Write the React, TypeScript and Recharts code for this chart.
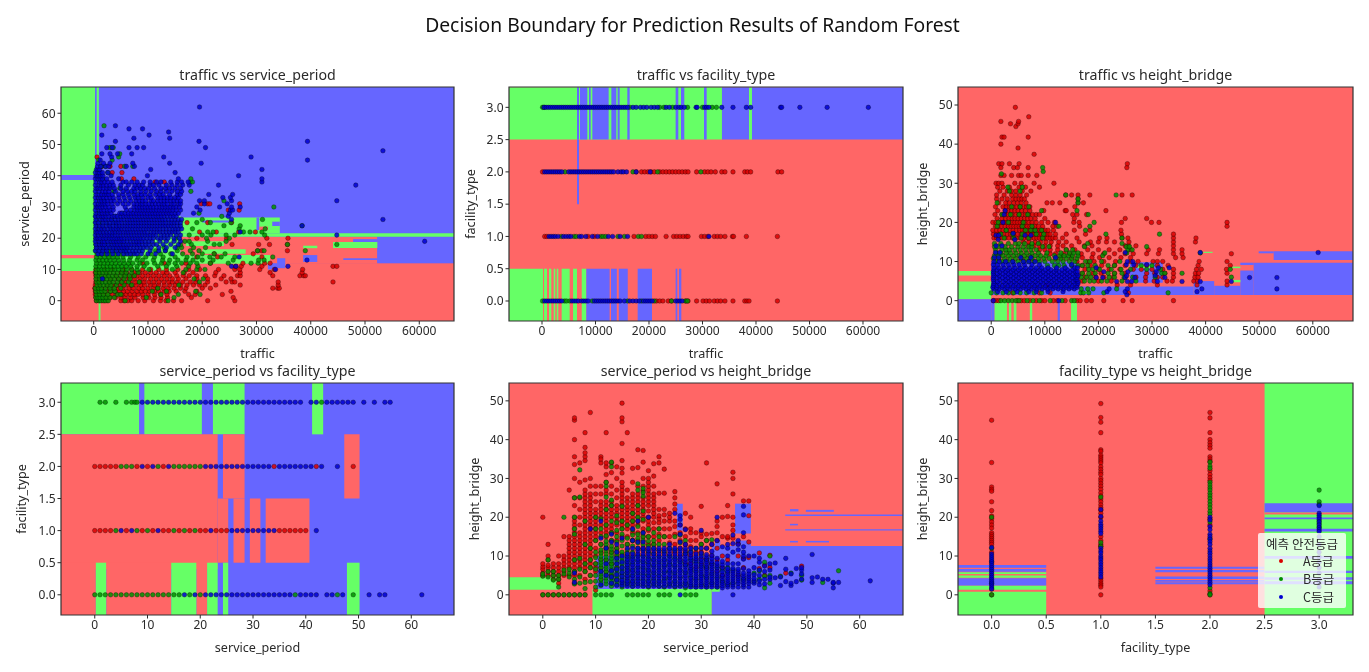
import { ScatterChart, Scatter, XAxis, YAxis, ReferenceArea, Legend } from 'recharts';

type Rows = [number, number[]][];
type Region = [string, number, number, number, number];

const classNames = ['A등급', 'B등급', 'C등급'];
const classFill: Record<string, string> = { A: '#d80000', B: '#008f00', C: '#0000d0' };
const regionFill: Record<string, string> = { A: '#ff6666', B: '#66ff66', C: '#6666ff' };

const trafficTicks = [0, 10000, 20000, 30000, 40000, 50000, 60000];
const periodTicks = [0, 10, 20, 30, 40, 50, 60];
const heightTicks = [0, 10, 20, 30, 40, 50];
const typeTicks = [0, 0.5, 1, 1.5, 2, 2.5, 3];

// traffic (thousands) listed per service_period value
const trafficPeriodA: Rows = [
  [0, [0.5, 1, 1.5, 2, 2.5, 5, 5.6, 6.3, 7, 8.2, 9.4, 11, 12.3, 13.3, 14.7, 16.2, 21, 26]],
  [1, [0.4, 1, 1.8, 2.4, 3, 4, 5, 5.8, 6.8, 7.6, 9.1, 10.2, 11.3, 12.4, 13.6, 18, 25.7]],
  [2, [0.3, 0.9, 1.6, 2.3, 3.3, 4.2, 5.2, 6, 6.7, 7.5, 8.2, 9, 10, 11.2, 12.3, 13.5, 17.5, 18.7, 23.7]],
  [3, [0.3, 1, 2, 3, 4, 4.7, 5.5, 6.2, 7.1, 8, 8.8, 9.5, 10.3, 11.2, 12, 13, 13.9, 15.2, 16.8, 19, 25.3]],
  [4, [0.2, 0.8, 1.5, 2.5, 3.4, 4.5, 5.4, 6.5, 7.3, 8.3, 9, 10, 11, 11.8, 12.8, 13.7, 14.8, 16, 17, 20, 21.5, 33, 33.9, 34.2]],
  [5, [0.3, 1.2, 2.4, 3.5, 4.3, 5.2, 6, 6.9, 7.8, 8.7, 9.4, 10.4, 11.2, 12, 13, 14, 15, 16, 17.2, 18.4, 19.5, 20.5, 22.5, 27, 34]],
  [6, [0.4, 1.1, 3, 5, 5.8, 6.8, 7.7, 8.5, 9.3, 10.2, 11.1, 12, 12.9, 13.8, 14.5, 15.4, 16.4, 17.8, 18.8, 21, 24.4, 25.5, 26, 34, 44.1]],
  [7, [0.5, 1.3, 3.2, 4.5, 5.5, 6.5, 7.5, 8.5, 9.4, 10.5, 11.5, 12.5, 13.5, 14.5, 15.6, 17, 19, 21, 23.5, 25.3]],
  [8, [0.4, 1.3, 2.5, 4, 5.5, 6.3, 7.2, 8, 9, 10, 11, 12, 13, 14, 15.3, 16.5, 17.6, 19, 20.6, 22.3, 24, 26.5, 27, 33, 38, 38.7, 39]],
  [9, [0.3, 1, 2.5, 5, 6, 7.5, 8.5, 9.5, 10.5, 11.5, 12.7, 13.5, 15, 16.7, 18.3, 22.5, 27, 32.5, 38.4]],
  [10, [0.4, 2, 3.5, 5.5, 7, 9, 10.5, 12, 13.4, 15.5, 17.5, 19.5, 23, 26, 26.9, 30.6, 33.3, 38.5]],
  [11, [26.2, 27.2, 31, 44.1, 44.8]],
  [12, [9, 13, 17, 21.5, 31.5, 32.5, 27.5]],
  [14, [19, 31, 22.8]],
  [15, [22.2, 29.4]],
  [16, [30.2, 31, 35.7]],
  [18, [30.4, 32.4, 35.7, 25.5]],
  [20, [31.9, 35.8, 24.5, 19]],
  [22, [19.5, 22.6, 26.7, 29.8]],
  [25, [17.2, 25.4, 21]],
  [29, [26.8, 24.8]],
  [31, [21, 21.4, 19.8, 26.9]],
  [38, [11.3, 13]],
  [39, [7.4, 5.1]],
  [41, [3.4, 5.2]],
  [43, [1.5, 3, 5]],
  [46, [0.6]],
];
const trafficPeriodB: Rows = [
  [0, [0.5, 1, 1.3, 1.8, 2.2, 2.7, 5.8, 13.7]],
  [1, [0.4, 0.8, 1.2, 1.7, 2.3, 3, 3.8, 9.7, 14.8]],
  [2, [0.5, 1.1, 1.8, 2.6, 4.4, 5, 12.4, 15.6, 19.6]],
  [3, [0.4, 1, 1.5, 2.1, 3.1, 3.9, 10.8, 13.4, 18.8]],
  [4, [0.3, 0.9, 1.4, 2.2, 3, 3.8, 5, 11.8]],
  [5, [0.6, 1.2, 1.8, 2.5, 3.2, 4.2, 5.6, 7, 15.7]],
  [6, [0.5, 1, 1.6, 2.2, 2.9, 3.6, 4.4, 5.2, 6.4, 8.4, 19.5]],
  [7, [0.4, 1.1, 1.8, 2.4, 3.1, 3.8, 4.6, 5.6, 6.7, 18.5, 20.2]],
  [8, [0.5, 1, 1.5, 2.2, 2.8, 3.5, 4.2, 5, 5.8, 6.6, 7.5]],
  [9, [0.4, 1.1, 1.7, 2.3, 3, 3.7, 4.4, 5.2, 6, 7, 8.2, 16.5]],
  [10, [0.5, 1, 1.5, 2, 2.6, 3.2, 3.9, 4.6, 5.3, 6.1, 7, 8, 10.2, 14.5, 17, 19, 20.5]],
  [11, [0.4, 1.1, 1.8, 2.5, 3.1, 3.8, 4.5, 5.2, 6, 6.8, 8, 9.3, 11.8, 13.4, 15.3, 17.5, 19.2]],
  [12, [0.5, 1.2, 1.9, 2.6, 3.3, 4, 4.8, 5.6, 6.4, 7.2, 8.5, 9.8, 11.2, 12.5, 13.8, 15, 16.2, 17.8, 19, 21.5, 24.8, 29, 30.3]],
  [13, [0.4, 1, 1.7, 2.4, 3, 3.8, 4.6, 5.5, 6.6, 8, 9, 11, 12.7, 14, 15.5, 17, 18.3, 20, 22, 25.7, 30.4, 31.4]],
  [14, [0.5, 1.2, 2, 2.8, 3.6, 4.4, 5.4, 6.8, 8.2, 9.6, 11.2, 12.8, 15, 17.2, 19.2, 21.4, 23.5, 26, 33]],
  [15, [0.6, 1.4, 2.2, 3, 4, 5, 6, 7.2, 10.5, 12.3, 14.2, 16.4, 18.2, 20, 22.2, 24.2]],
  [16, [0.4, 1.2, 2, 2.8, 3.7, 4.6, 5.6, 11.4, 13.2, 15.4, 17.8, 19.4, 30.2, 31.4, 39]],
  [17, [0.5, 1.3, 2.1, 3, 3.8, 4.8, 6, 13, 15.4, 16.2, 18.4, 20.6]],
  [18, [0.4, 1.1, 2, 2.9, 3.9, 5, 16, 18, 22.2, 23.2, 35.7, 44.8]],
  [19, [0.5, 1.3, 2.2, 3.2, 4.2, 16.8, 17.6, 21, 24.4]],
  [20, [0.4, 1.2, 2, 3, 4.4, 15.2, 20.8, 25]],
  [21, [0.6, 1.6, 2.6, 3.4, 17.6, 20, 21.6, 24.4, 26, 31.5]],
  [22, [0.4, 1.4, 2.4, 3.8, 21, 22, 27.6, 28.8, 31]],
  [23, [0.7, 1.7, 3.2, 4.6, 18.2, 26.8, 31.6]],
  [24, [0.5, 1.5, 2.8, 4.2, 24, 27, 38.4]],
  [25, [0.4, 1.2, 2.4, 3.8, 19, 21.5, 25.3]],
  [26, [0.6, 1.8, 3.2, 20, 31.1]],
  [27, [0.4, 1.5, 4, 23.6]],
  [28, [0.7, 2.5, 5.2, 19.4]],
  [30, [0.5, 33.2]],
  [32, [24, 1.8]],
  [35, [3.7, 17.9]],
  [36, [2.8, 4.8]],
  [38, [17.8, 18.2]],
  [39, [1.6, 17.9]],
  [41, [1.2, 2.6]],
  [43, [1.4, 2.2, 5.7, 7.2]],
  [45, [0.9, 3.4]],
  [46, [4.6]],
  [47, [4.8]],
  [49, [3, 3.6]],
  [56, [1.9]],
];
const trafficPeriodC: Rows = [
  [7, [1.6]],
  [10, [33.5]],
  [11, [25.4, 26.2, 35.8]],
  [13, [39.3]],
  [14, [26.8]],
  [15, [0.8, 1.5, 2.5, 3.5, 4.5, 5.5, 6.2, 6.8, 7.5, 8, 8.8, 10, 11.4, 14.5]],
  [16, [0.3, 1, 1.7, 2.4, 3.4, 4.2, 5, 5.6, 6, 6.6, 7.2, 7.8, 8.4, 9, 10.4, 12, 13.2]],
  [17, [0.5, 1.2, 1.8, 2.4, 3, 3.6, 4.2, 4.7, 5.2, 5.7, 6.2, 6.8, 7.4, 8, 8.6, 9.2, 9.8, 10.6, 12, 13.4, 15]],
  [18, [0.4, 1.1, 1.6, 2, 2.7, 3.4, 3.9, 4.4, 4.9, 5.5, 6, 6.5, 7, 7.5, 8, 8.4, 9, 9.6, 10.2, 11, 11.6, 12.8, 14.2, 15.6]],
  [19, [0.3, 1, 1.6, 2, 2.6, 3.2, 3.7, 4.2, 4.7, 5.2, 5.6, 6.2, 6.8, 7.4, 7.9, 8.4, 8.9, 9.5, 10.2, 10.8, 12.2, 13.4, 14.8, 16, 61]],
  [20, [0.4, 0.8, 1.2, 1.8, 2.3, 2.9, 3.4, 3.9, 4.3, 4.8, 5.2, 5.7, 6.2, 6.7, 7.2, 7.7, 8.2, 8.7, 9.2, 9.8, 10.4, 11, 11.8, 12.4, 13, 13.7, 14.8, 15.8]],
  [21, [0.3, 0.9, 1.5, 2, 2.5, 3, 3.5, 4, 4.5, 5, 5.5, 6, 6.5, 7, 7.5, 8, 8.5, 9, 9.5, 10, 10.5, 11, 11.5, 12.4, 13, 13.6, 14.2, 15.2, 16, 44.8]],
  [22, [0.4, 0.8, 1.2, 1.8, 2.4, 3, 3.5, 4, 4.6, 5, 5.5, 6, 6.4, 6.9, 7.4, 7.9, 8.4, 8.9, 9.4, 9.9, 10.6, 11.1, 11.7, 12.2, 12.8, 13.4, 14, 14.5, 15, 15.6, 27]],
  [23, [0.3, 1, 1.5, 2, 2.6, 3.2, 3.7, 4.2, 4.7, 5.2, 5.7, 6.2, 6.7, 7.2, 7.7, 8.2, 8.7, 9.2, 9.7, 10.2, 10.7, 11.2, 11.7, 12.2, 12.8, 13.4, 14, 14.6, 15.1, 15.6, 16.2]],
  [24, [0.4, 1.1, 1.7, 2.4, 3, 3.6, 4.2, 4.8, 5.3, 5.8, 6.3, 6.8, 7.3, 7.8, 8.3, 8.8, 9.3, 9.8, 10.3, 10.8, 11.3, 11.8, 12.3, 12.8, 13.3, 13.8, 14.3, 14.8, 15.4, 16, 38.4]],
  [25, [0.3, 0.9, 1.7, 2.3, 3, 3.6, 4.2, 4.7, 5.2, 5.8, 6.3, 6.8, 7.3, 7.8, 8.3, 8.8, 9.3, 9.8, 10.3, 10.8, 11.3, 11.8, 12.3, 12.8, 13.3, 13.9, 14.4, 14.9, 15.4, 16]],
  [26, [0.4, 1.2, 1.7, 2.2, 2.8, 3.3, 4, 4.6, 5.1, 5.6, 6.2, 6.7, 7.2, 7.7, 8.2, 8.7, 9.2, 9.7, 10.2, 10.7, 11.2, 11.7, 12.2, 12.7, 13.2, 13.8, 14.4, 15, 15.6, 16.2, 25.4, 53.3]],
  [27, [0.3, 0.9, 1.4, 1.8, 2.3, 2.8, 3.4, 3.9, 4.4, 5, 5.5, 6, 6.5, 7, 7.5, 8, 8.5, 9, 9.5, 10, 10.5, 11, 11.5, 12, 12.5, 13, 13.6, 14.2, 14.7, 15.2, 24.8]],
  [28, [0.4, 1.1, 1.6, 2.1, 2.6, 3.2, 4.8, 5.2, 5.8, 6.4, 6.9, 7.4, 7.9, 8.4, 8.9, 9.4, 9.9, 10.4, 10.9, 11.4, 11.9, 12.4, 12.9, 13.4, 13.9, 14.4, 15, 15.6, 18.4, 25]],
  [29, [0.3, 1, 1.4, 1.9, 2.5, 3, 3.6, 6, 6.8, 7.6, 8.1, 8.6, 9.1, 9.6, 10.1, 10.6, 11.1, 11.6, 12.1, 12.6, 13.1, 13.6, 14.1, 14.6, 15.2, 16, 19.6, 25.2, 25.6]],
  [30, [0.4, 0.8, 1.2, 1.7, 2.2, 2.8, 3.6, 5.8, 7.4, 8, 8.5, 9, 9.5, 10, 10.5, 11, 11.6, 12.2, 12.7, 13.2, 13.7, 14.2, 14.7, 15.2, 15.8, 19, 23.2, 25.4, 27]],
  [31, [0.3, 0.9, 1.3, 1.7, 2.1, 2.6, 3.4, 4.4, 5.4, 6.4, 7.4, 8, 8.6, 9, 9.6, 10.2, 10.8, 11.4, 12, 12.6, 13, 13.6, 14.4, 14.8, 15.6, 16, 20.4, 24.6]],
  [32, [0.4, 1.1, 1.5, 2, 2.6, 3.2, 3.8, 4.8, 5.8, 6.8, 7.8, 8.4, 9, 9.6, 10.6, 11, 11.8, 12.4, 13, 13.6, 14.2, 14.8, 15.4, 16, 19.5, 20.4, 25.4, 44.8]],
  [33, [0.3, 0.9, 1.3, 1.8, 2.4, 3, 3.6, 4.6, 5.6, 6.6, 7.6, 8.2, 9, 10, 10.6, 11.8, 12.4, 13, 13.6, 14.2, 15, 15.6, 23.8, 25.2]],
  [34, [0.4, 1, 1.5, 2, 2.4, 2.8, 3.4, 4.6, 5.4, 6.4, 7.4, 8.2, 8.8, 9.5, 10.4, 11.4, 12.2, 12.8, 14, 15.4, 16, 21.2, 25.6]],
  [35, [0.3, 1, 1.7, 2.2, 2.8, 4, 5.4, 6.2, 7, 7.6, 8.7, 9.6, 10.6, 11.6, 12.4, 13.4, 14.4, 15.4, 16.2]],
  [36, [0.4, 0.8, 1.2, 1.8, 2.4, 3, 3.8, 5, 6, 7.4, 8, 8.6, 9.4, 10.2, 11.2, 12.4, 13.2, 14, 15, 16]],
  [37, [0.3, 1, 1.4, 1.8, 2.4, 3, 3.6, 5, 6.4, 7.6, 8.4, 9, 10.4, 11, 12, 13.4, 14.4, 15.4, 16.4, 17.6, 23, 48.3]],
  [38, [0.4, 1.1, 1.5, 2, 2.6, 3.4, 5.4, 6, 7, 8, 9.2, 10.4, 11.6, 12.4, 14.2, 15.4, 16.2, 17.4, 31]],
  [39, [0.3, 0.8, 1.2, 1.6, 2.4, 4.6, 15.6, 31]],
  [40, [0.4, 0.7, 1, 1.3, 1.7, 3.2, 9.9, 26.7]],
  [41, [0.3, 0.8, 1.1, 1.6, 2.6, 15]],
  [42, [0.5, 0.8, 1.1, 10.5, 31]],
  [43, [0.7, 1.3, 2.2, 2.8, 6, 7.5]],
  [44, [0.8, 1.8, 3, 7.2, 14, 19.8]],
  [45, [1.2, 39.4]],
  [46, [3.3, 12.9, 29]],
  [47, [1.5, 3, 4.4, 7]],
  [48, [53.3]],
  [49, [2.4, 3.4, 6.5, 8, 9.2, 20.6]],
  [51, [4, 19.4, 39.4]],
  [52, [7.4, 14]],
  [53, [1.5, 10.2]],
  [54, [13.8]],
  [55, [6.5, 9]],
  [56, [4]],
  [62, [19.5]],
];

// traffic (thousands) listed per facility_type value
const trafficTypeA: Rows = [
  [2, [0.1, 17.6, 18.6, 19.2, 19.8, 20.4, 21, 22, 22.6, 23.2, 23.8, 24.4, 25, 25.6, 26.2, 26.8, 27.3, 28.9, 30.4, 31, 31.6, 32.4, 33.6, 34.2, 35.7, 37.9, 38.4, 39, 44.1, 44.8]],
  [1, [0.5, 0.9, 8.6, 9.8, 17.2, 19.4, 20, 20.6, 21.2, 23.2, 24.6, 25.2, 25.8, 26.4, 27, 27.3, 29.8, 30.4, 31, 32.2, 32.8, 33.4, 34.2, 35.6, 35.8, 38.2, 44]],
  [0, [21.4, 22, 22.6, 23.6, 24.2, 26.9, 27.3, 28.9, 30.1, 30.7, 31.3, 32.2, 32.8, 33.4, 34.2, 35.7, 37.9, 38.3, 38.7, 44]],
];
const trafficTypeB: Rows = [
  [3, [0.1, 0.4, 16.4, 22, 22.8, 24.4, 27.2, 30, 31.8, 32.6]],
  [2, [4.3, 17, 21.6, 29.7]],
  [1, [3.6, 6, 6.4, 11, 11.4, 11.9, 14.2, 15.4, 18, 18.6]],
  [0, [0.1, 4.2, 4.6, 5.2, 9.4, 16, 18.6, 21, 24.2, 26.8, 27.2]],
];
const trafficTypeC: Rows = [
  [3, [0.4, 0.8, 1.2, 1.6, 2, 2.4, 2.8, 3.2, 3.6, 4, 4.4, 4.8, 5.2, 5.6, 6, 6.4, 6.8, 7.2, 7.6, 8, 8.4, 8.8, 9.2, 9.6, 10, 10.4, 10.8, 11.2, 11.6, 12, 12.4, 12.8, 13.2, 13.6, 14, 14.4, 14.8, 15.2, 15.6, 16, 17, 17.6, 18.4, 19, 19.6, 20.4, 21, 21.6, 23.2, 23.8, 25, 25.6, 26, 26.6, 28.8, 29, 30.4, 30.8, 31.2, 33.6, 35.7, 38.2, 39, 44.6, 44.8, 48.2, 53.3, 61]],
  [2, [0.5, 0.9, 1.3, 1.7, 2.1, 2.5, 2.9, 3.3, 3.7, 5, 5.4, 5.8, 6.2, 6.6, 7, 7.4, 7.8, 8.2, 8.6, 9, 9.4, 9.8, 10.2, 10.6, 11, 11.4, 11.8, 12.2, 12.6, 13, 13.4, 14.2, 14.8, 15.2, 15.8, 17.6, 20.2]],
  [1, [1.3, 1.7, 2.1, 2.5, 3, 4, 4.5, 5, 5.4, 7, 7.4, 8.2, 9.4, 10.4, 12.4, 13.2, 14.6, 16, 31.2]],
  [0, [0.5, 0.9, 1.3, 1.7, 2.1, 2.5, 2.9, 3.3, 3.7, 5.6, 6, 6.4, 6.8, 7.4, 7.8, 8.2, 8.6, 9.8, 10.2, 10.6, 11, 11.4, 11.8, 12.2, 12.6, 13, 13.4, 13.8, 14.2, 14.6, 15.4, 16.4, 17, 17.6, 18.2, 19, 19.4, 19.8, 20.2, 20.6, 25, 25.4, 25.8, 26.2]],
];

// traffic (thousands) listed per height_bridge value
const trafficHeightA: Rows = [
  [0, [0.4, 0.9, 1.4, 4.9, 5.6, 6.2, 7.2, 8.4, 9.4, 10, 11.6, 12.3, 13.8, 16, 16.6, 17.8, 18.7, 21, 24.6, 26.3, 34]],
  [2, [4, 9, 11, 25.6]],
  [4, [10.4, 23.5, 26, 31, 38.4, 44]],
  [5, [17, 20, 22.4, 28.8, 30.4, 32.8, 33.8, 37.8, 38.5, 44]],
  [6, [17.6, 19.5, 21, 22.8, 25, 27, 28.8, 31, 32, 34, 38, 38.6]],
  [7, [17, 19, 20.5, 23, 25, 29, 30.5, 32.4, 34, 38.1, 38.7, 44]],
  [8, [17.5, 20, 22, 24, 26.5, 28, 30, 32, 34, 38.3, 39.2, 43.9]],
  [9, [17, 18.5, 20.6, 23, 25, 27, 29, 31, 33, 38.6, 44.6]],
  [10, [16, 18, 19.2, 21, 23.2, 26, 27.4, 30.2, 31, 32, 38.8, 44]],
  [11, [13, 15, 17, 18.8, 20.2, 22, 24.2, 26, 34.4, 35.8]],
  [12, [11, 12, 13.5, 14.5, 16.8, 19, 21, 23, 25, 26.5, 29, 31.2, 34, 35.6, 44.8]],
  [13, [9, 10, 11, 12.4, 14, 15.6, 18, 20, 22, 24, 26, 29.3, 31.4, 34, 35.6]],
  [14, [7, 8, 9, 10, 11, 12.4, 13.4, 15, 17.4, 18.8, 25, 25.6, 27, 34]],
  [15, [6, 7, 8.2, 9.2, 10.2, 11.2, 12.6, 14, 16.4, 18.5, 20, 21.5, 23, 25.7, 34, 38.1]],
  [16, [0.5, 1, 1.4, 2, 2.6, 3.3, 4, 4.7, 5.4, 6.1, 6.8, 7.4, 8, 8.5, 9, 9.5, 10, 10.5, 11, 11.5, 12, 13.3, 16, 20.2, 21.6, 24.4, 25.5, 34, 38.2]],
  [17, [0.4, 1, 1.6, 2.3, 3, 3.6, 4.2, 4.9, 5.6, 6.2, 6.8, 7.2, 7.6, 8, 8.4, 8.9, 9.4, 9.8, 10.2, 10.6, 11, 12, 14, 17.6, 24.3, 34]],
  [18, [0.3, 1, 1.6, 2.2, 2.8, 3.5, 4.1, 4.7, 5.3, 5.8, 6.3, 6.8, 7.3, 7.8, 8.2, 8.6, 9.1, 9.6, 10.1, 10.6, 11.6, 15.5, 18.4, 24.2]],
  [19, [0.8, 1.4, 1.9, 2.6, 3.2, 3.7, 4.2, 4.7, 5.2, 5.7, 6.2, 6.7, 7.2, 7.7, 8.2, 8.8, 9.6, 11.5, 12.3, 16.5, 44]],
  [20, [0.3, 0.9, 1.4, 1.9, 2.4, 2.9, 3.4, 3.9, 4.4, 4.9, 5.4, 5.9, 6.4, 7, 7.6, 8.4, 9.4, 10.6, 11.8, 15.4, 16.4, 24.3, 29.9, 31.3, 44]],
  [21, [1.1, 2, 2.7, 3.3, 3.9, 4.4, 5, 5.6, 6.2, 6.8, 7.4, 8.2, 10, 15.5, 25, 29]],
  [22, [0.7, 2, 2.6, 3.2, 3.9, 4.6, 5.2, 5.8, 6.4, 7, 7.7, 8.4, 9, 15.2, 16, 17.8]],
  [23, [1.2, 2.6, 3.2, 3.8, 4.4, 5, 5.7, 6.4, 7.2, 9.8, 13.8, 14, 21.4]],
  [24, [0.8, 2.2, 2.8, 3.4, 4.1, 4.8, 5.4, 6, 6.6, 7.2, 15.6]],
  [25, [1.4, 2.7, 3.4, 4.2, 4.9, 5.6, 6.5, 10.4, 11.4, 12.8, 16.2, 17.2]],
  [26, [1, 2, 3, 4, 4.6, 5.2, 5.7, 6.2, 16.2]],
  [27, [1, 2.4, 3.8, 4.6, 5.4, 6.6, 13.9, 15, 16.2, 18.4, 24.4, 26.3]],
  [28, [1.6, 3, 3.8, 4.6, 5.8, 7.4]],
  [29, [1.2, 2.2, 3.4, 5.2, 6.4, 9]],
  [30, [0.9, 1.4, 2, 4.4, 5.6, 8, 11.7]],
  [32, [1.8, 2.4, 3.8, 5.1, 5.6, 6.9, 8.5]],
  [34, [1.8, 4.2, 4.9, 6.9, 25.3]],
  [35, [1.4, 2, 3.4, 5.2, 25.4]],
  [37.4, [8]],
  [39, [5]],
  [40, [1.8]],
  [41.8, [2, 2.4, 6.9]],
  [44.5, [4.6]],
  [45.2, [3.6, 5]],
  [45.8, [1.8, 5.1]],
  [47, [7]],
  [49.4, [4.5]],
];
const trafficHeightB: Rows = [
  [0, [1.8, 2.5, 3.2, 3.9, 4.6, 5.2, 6.7, 7.8, 9, 11, 13.2, 15, 15.5]],
  [2, [0, 1, 2.2, 3.2, 4.2, 5.4, 6.6, 8, 9.4, 16.7, 17.2, 18.2, 21, 33]],
  [3, [16.8, 18, 19, 23.4]],
  [5, [17.4, 18.4, 19.2, 20.6, 21.6, 24.4, 27]],
  [6, [16.8, 17.8, 18.6, 22, 23, 24.8, 26.4, 30.6, 44.8]],
  [7, [17, 18.2, 19.4, 21.8, 23, 24.4, 31.8, 32.4, 35.6]],
  [8, [18.2, 19, 20.2, 22.4, 24.2, 26, 29, 31.6, 44.6]],
  [9, [10.5, 11.8, 12.6, 13.6, 15, 16.2, 17, 18, 19.4, 21.8, 23, 28, 30]],
  [10, [0.8, 2, 3, 4, 5, 6, 7, 8, 9, 10, 11.4, 12.4, 13.4, 14.6, 15.6, 17.6, 18.4, 20.6, 24]],
  [10.8, [0.4, 1.4, 2.5, 3.5, 4.5, 5.6, 6.6, 7.6, 8.8, 9.8, 10.8, 12, 13, 14, 15, 16]],
  [11.5, [0.6, 1.4, 2.2, 3.2, 4.2, 5.2, 6.2, 7.2, 8.2, 9.2, 10.2, 11.8, 12.8, 13.6, 14.4, 15.2, 16.2, 20.8]],
  [12.2, [0.9, 1.8, 2.8, 3.6, 4.6, 5.6, 6.6, 7.6, 8.8, 10.4, 13, 14.6, 15.4, 16.2, 21.2, 25.3, 39]],
  [13, [0.8, 2, 2.8, 3.4, 4.4, 5.4, 6.4, 7.4, 8.4, 14, 15.2, 25.5, 26.3]],
  [13.8, [0.6, 1.3, 2.6, 3.8, 5, 6, 7, 7.6, 9.6, 10.8, 17.4, 25.2, 25.8, 29]],
  [14.6, [0.6, 1.8, 3.2, 4.5, 5.2, 6.2, 7.6, 8.8, 18, 24.4]],
  [16, [2.4, 4.2, 5.6, 7, 9.6, 24.4]],
  [17, [1.8, 4, 5.8, 8.4, 9.8, 21.4, 31.4]],
  [18, [2.8, 6.4, 7.4, 8.2, 9.4, 17.6]],
  [19, [1.1, 5.8, 7.6, 12.6, 18.4]],
  [20, [1.3, 6, 19.2, 3.2]],
  [22, [2, 3.6, 5.2, 6.8, 18.1]],
  [23, [16, 9.4]],
  [24, [3.8, 5.4, 7]],
  [25, [1.1, 16.2]],
  [26, [16.2]],
  [27, [13.9, 23.3]],
  [28, [3.4, 5.4]],
  [29, [3.1, 5.8]],
  [32.4, [1.9]],
  [33, [9.7]],
  [34, [9.6]],
];
const trafficHeightC: Rows = [
  [0, [0.4, 12.6]],
  [1.5, [25.3]],
  [2.3, [1.2, 2.8, 4.8, 7, 8.4, 10.6, 13.4, 21.6, 25, 38.4]],
  [3, [0.5, 1.5, 2.5, 3.5, 4.5, 5.5, 6.5, 7.5, 8.5, 9.5, 10.5, 11.5, 12.5, 13.5, 14.5, 15.5, 22, 25.4, 39.3, 53.3]],
  [3.4, [0.3, 1, 2, 3, 4, 5, 6, 7, 8, 9, 10, 11, 12, 13, 14, 15, 16]],
  [3.9, [0.4, 1.1, 2.1, 3.1, 4.1, 5.1, 6.1, 7.1, 8.1, 9.1, 10.1, 11.1, 12.1, 13.1, 14.1, 15.1, 16]],
  [4.4, [0.5, 1.5, 2.6, 3.6, 4.6, 5.6, 6.6, 7.6, 8.6, 9.6, 10.6, 11.6, 12.6, 13.6, 14.6, 15.6, 16.2]],
  [4.9, [0.5, 1.2, 2.3, 3.3, 4.3, 5.3, 6.3, 7.3, 8.3, 9.3, 10.3, 11.3, 12.3, 13.3, 14.3, 15.3, 16.2, 23.4, 25.4, 26.2, 31, 35.6, 39, 44.8]],
  [5.4, [0.4, 1.6, 2.7, 3.7, 4.7, 5.7, 6.7, 7.7, 8.7, 9.7, 10.7, 11.7, 12.7, 13.7, 14.7, 15.7, 16]],
  [5.9, [0.4, 1.1, 2.1, 3.1, 4.1, 5.1, 6.1, 7.1, 8.1, 9.1, 10.1, 11.1, 12.1, 13.1, 14.1, 15.1, 16, 19.6, 20.8, 25, 26.8, 32.4, 48.2, 53.3]],
  [6.4, [0.5, 1.5, 2.6, 3.6, 4.6, 5.6, 6.6, 7.6, 8.6, 9.6, 10.6, 11.6, 12.6, 13.6, 14.6, 15.6, 16.2, 25.3, 30.6]],
  [6.9, [0.4, 1.2, 2.2, 3.2, 4.2, 5.2, 6.2, 7.2, 8.2, 9.2, 10.2, 11.2, 12.2, 13.2, 14.2, 15.2, 16]],
  [7.4, [0.4, 1.6, 2.7, 3.7, 4.7, 5.7, 6.7, 7.7, 8.7, 9.7, 10.7, 11.7, 12.7, 13.7, 14.7, 15.7, 16.1, 21, 25.5, 30.8]],
  [7.9, [0.5, 1.1, 2.1, 3.1, 4.1, 5.1, 6.1, 7.1, 8.1, 9.1, 10.1, 11.1, 12.1, 13.2, 14.2, 15.2]],
  [8.4, [0.5, 1.4, 2.4, 3.4, 4.4, 5.4, 6.4, 7.4, 8.4, 9.4, 10.6, 12.2, 13.8, 15.6, 16.1, 19.6, 31.2, 33.2]],
  [9.2, [0.4, 1.2, 2.2, 3.2, 4.2, 5.2, 6.2, 7.6, 9, 15, 25.2, 26.6, 29]],
  [10, [0.5, 1.5, 2.7, 4, 6, 7, 8.2, 25.4, 26.4]],
  [11, [0.6, 1.4, 5.5, 7.4, 12]],
  [12.3, [0.8, 1.6, 25, 39, 61]],
  [14, [0.9, 2]],
  [15.6, [1.3, 4.4]],
  [16.7, [0.9, 1.4, 6.3, 7.4]],
  [17.2, [4.1]],
  [20, [2.2, 12]],
  [22, [2.4]],
  [23, [2.6]],
];

// height_bridge listed per service_period value
const periodHeightA: Rows = [
  [0, [0, 5, 5.6, 6.6, 7.2, 8, 20]],
  [1, [0, 5, 6, 7, 7.6, 9, 10, 13]],
  [2, [0, 4, 5, 6, 7, 8]],
  [3, [0, 3, 4, 5, 6, 7, 8, 10]],
  [4, [0, 5, 6, 7, 8, 9, 10, 15]],
  [5, [0, 5, 7, 8, 9, 10, 11, 12, 13, 14, 15, 27]],
  [6, [0, 3, 5, 6, 7, 8, 9, 10, 11, 12, 13, 14, 15, 16, 17, 18, 19, 20, 23, 25, 30, 33.6, 35.6, 40, 45, 45.6]],
  [7, [0, 5, 7, 8, 9, 10, 11, 12, 13, 14, 15, 16, 18, 20, 22, 25, 29, 34]],
  [8, [0, 4, 6, 7, 8, 9, 10, 11, 12, 13, 14, 15, 16, 17, 18, 19, 20, 21, 22, 23, 24, 25, 26, 27, 29.6, 34.6, 35.6, 36.6, 38, 41.8]],
  [9, [5, 7, 8, 9, 10, 11, 12, 13, 14, 15, 16, 17, 18, 19, 20, 21, 22, 23, 24, 25, 26, 28, 30, 47]],
  [10, [1.2, 6, 7, 8, 10, 12, 14, 15, 16, 17, 18, 19, 20, 21, 22, 24, 26, 28]],
  [11, [4, 7, 9, 11, 13, 16, 18, 20, 21, 22, 23, 24, 26, 28, 34, 35.6, 35]],
  [12, [6, 9, 12, 15, 16, 17, 18, 19, 20, 21, 22, 23, 24, 26, 27, 29, 31, 33, 34, 41.8]],
  [13, [5, 8, 11, 14, 16, 17, 18, 20, 21, 22, 23, 24, 26, 28, 31.5, 34]],
  [14, [4, 7, 10, 12, 14, 16, 18, 19, 20, 21, 22, 23, 25, 27, 30, 33]],
  [15, [15, 17, 18, 19, 20, 21, 22, 23, 24, 25, 26, 27, 28, 29, 31.4, 32.6, 34.6, 39, 44.6, 45.6, 49.4]],
  [16, [13, 15, 17, 18, 19, 20, 21, 22, 22.8, 24, 25, 27, 41.8]],
  [17, [14, 16, 18, 19, 20, 21, 22, 23, 24, 25, 26, 29, 32.6]],
  [18, [14, 16, 18, 19, 20, 21, 22, 23, 24, 25, 26, 28, 32.8, 37.4]],
  [19, [12, 15, 17, 19, 20, 21, 22, 23, 24, 25, 26.8, 28, 30, 34.2, 37.2]],
  [20, [13, 15, 16.6, 18, 19, 20, 21.6, 23, 24, 25, 26, 27, 28, 29, 30, 32]],
  [21, [13, 15, 17, 18.6, 20, 21, 22, 23, 24, 25, 26, 28, 30.6, 33.8]],
  [22, [14, 15.6, 17, 18.6, 19.6, 20.4, 22, 26.2, 34, 35.6]],
  [23, [15, 17, 19, 20.6, 22, 26.2, 32.4]],
  [24, [13.4, 15, 17, 19, 20, 21]],
  [25, [11, 13, 15.6, 17.6, 19, 22, 23.4, 25, 26.6]],
  [26, [9, 10, 12, 14, 16, 18]],
  [27, [8, 11, 13, 15, 17, 21]],
  [28, [8, 10, 12.4, 14, 16, 17, 20]],
  [29, [7, 9, 11, 14, 16]],
  [30, [8, 9.4, 11, 13, 15, 16, 22.8]],
  [31, [7, 9, 12, 14, 15.6, 34]],
  [32, [8, 10, 13, 15.8]],
  [33, [6, 9, 12, 14, 16, 17.6, 19, 28.6]],
  [34, [5, 7, 10, 15, 20]],
  [35, [9, 14.6, 15, 20.2, 23]],
  [36, [14.6, 16.6, 18, 20, 26, 30, 31.6]],
  [37, [5, 10, 13.2]],
  [38, [7, 9.4, 15, 24.2]],
  [39, [9.6, 13.6, 20.4, 24.2]],
  [41, [10.8, 6.8]],
  [42, [7.6, 5]],
  [43, [7, 10.2]],
  [46, [5.6]],
  [49, [7.4]],
];
const periodHeightB: Rows = [
  [0, [0, 4.8, 5.4]],
  [1, [0, 4.6, 6, 9]],
  [2, [0, 3.8, 5, 6]],
  [3, [0, 2, 4, 5]],
  [4, [0, 5.4, 6.4, 20]],
  [5, [0, 4.6, 5.6, 6.6]],
  [6, [0, 2.8, 4, 6, 9, 15.6, 17, 20, 25]],
  [7, [0, 3, 4.6, 6.6, 9.4, 25.2, 32.2]],
  [8, [0, 1.6, 3.2, 6, 8, 13, 19]],
  [9, [3.4, 5, 7, 9, 12]],
  [10, [0, 2, 3.5, 5, 6.6, 8, 9.6, 11, 14, 17, 20]],
  [11, [0, 2.4, 3.2, 4, 4.8, 5.4, 6.2, 7, 7.8, 8.4, 9.2, 10, 10.8, 11.6, 13, 15, 17, 19.6]],
  [12, [0, 2.8, 3.6, 4.4, 5.2, 6, 6.8, 7.4, 8.2, 9, 9.8, 10.6, 11.4, 12.2, 13, 13.8, 15.2, 18, 22, 25.2, 28, 29]],
  [13, [0, 2.2, 3, 3.6, 4.4, 5, 5.8, 6.6, 7.4, 8, 8.8, 9.4, 10.2, 11, 11.8, 12.6, 14, 16, 19, 23, 24.4, 33, 34.2]],
  [14, [2.6, 3.4, 4, 4.8, 5.6, 6.4, 7, 8, 8.8, 9.6, 10.4, 11.2, 12, 13.6, 15, 16.6, 18.6, 20.4]],
  [15, [2, 2.8, 3.4, 4.2, 5, 5.6, 6.4, 7.2, 8, 8.8, 9.6, 10.4, 11, 12.6, 14, 15.6, 17, 19, 22.8]],
  [16, [0, 2.6, 3.2, 4, 4.8, 5.6, 6.4, 7, 7.8, 8.6, 9.4, 10, 10.8, 11.6, 13, 14.6, 18]],
  [17, [0, 2.2, 3.4, 5, 6.4, 8, 9.6, 11, 12.6, 14, 15.4, 16.8, 19, 21]],
  [18, [0, 2.8, 4, 5.6, 7, 8.8, 10.2, 12, 13.4, 14.6, 15.6, 17.6, 20, 23, 27, 28.6]],
  [19, [0, 2.4, 3.8, 5.2, 6.8, 8.4, 10, 11.6, 13, 14, 15, 16, 19.4, 21.6, 25.4, 26.4, 27.4]],
  [20, [0, 2, 3.4, 5, 6.4, 8, 9.4, 11, 12.6, 13.8, 15, 17]],
  [21, [2.6, 4, 5.6, 7.4, 9, 10.6, 12, 13, 14, 16]],
  [22, [0, 2.2, 3.4, 5, 6.6, 8.2, 9.8, 11.4, 13, 15, 17]],
  [23, [0, 2, 4, 5.8, 7.4, 9, 11, 13, 15]],
  [24, [0, 2.6, 4.4, 6, 8, 10, 12]],
  [25, [2, 3.4, 5.4, 7.4, 9.4, 11.6, 15]],
  [26, [2.4, 4.4, 6.4, 8.4, 13.4, 15.4]],
  [27, [0, 1.8, 3, 5.6, 7.6, 10.6, 14]],
  [28, [0, 2.4, 4.6, 6.6, 9, 11.2]],
  [29, [0, 2, 4, 6, 8.4, 12]],
  [30, [2.6, 5, 7.4, 10.4, 13]],
  [31, [2, 4.4, 7, 9, 14]],
  [32, [3, 5.4, 8, 14.2]],
  [33, [2, 4.4, 7]],
  [34, [3.4, 6.4]],
  [35, [2.6, 5.8, 7]],
  [36, [3, 6.4]],
  [38, [4]],
  [40, [3.4, 5.6]],
  [41, [4, 6.2]],
  [42, [1.8, 4.8, 8.4]],
  [43, [3, 5, 10]],
  [45, [4.8]],
  [47, [5.6]],
  [49, [3.8, 5]],
  [53, [3.2]],
  [56, [6.2]],
];
const periodHeightC: Rows = [
  [6, [5.6, 3.2]],
  [9, [17]],
  [11, [2.6, 19, 6, 14.6]],
  [12, [8, 5, 12]],
  [13, [3, 4.6, 6.2, 13.6, 15.6]],
  [14, [2.4, 3.8, 5.2, 6.6, 8, 9.4, 11, 13]],
  [15, [2.4, 3.2, 3.8, 4.8, 5.8, 7, 8.4, 10, 14.6]],
  [16, [2.2, 3, 3.6, 4.4, 5, 5.8, 6.4, 7.2, 7.8, 8.6, 9.2, 10, 10.6, 12]],
  [17, [2.2, 3, 3.6, 4.4, 5, 5.8, 6.4, 7.2, 7.8, 8.6, 9.2, 10, 10.6, 12, 14, 17]],
  [18, [2.2, 3, 3.6, 4.4, 5, 5.8, 6.4, 7.2, 7.8, 8.6, 9.2, 10, 10.6, 11.4, 12, 13.6, 19]],
  [19, [2.2, 3, 3.6, 4.4, 5, 5.8, 6.4, 7.2, 7.8, 8.6, 9.2, 10, 10.6, 11.4, 12, 13.6, 16]],
  [20, [2.2, 3, 3.6, 4.4, 5, 5.8, 6.4, 7.2, 7.8, 8.6, 9.2, 10, 10.6, 11.4, 12, 20]],
  [21, [2.2, 3, 3.6, 4.4, 5, 5.8, 6.4, 7.2, 7.8, 8.6, 9.2, 10, 10.6, 11.4, 12]],
  [22, [2.2, 3, 3.6, 4.4, 5, 5.8, 6.4, 7.2, 7.8, 8.6, 9.2, 10, 10.6, 11.4, 12]],
  [23, [2.2, 3, 3.6, 4.4, 5, 5.8, 6.4, 7.2, 7.8, 8.6, 9.2, 10, 10.6, 11.4, 12]],
  [24, [2.2, 3, 3.6, 4.4, 5, 5.8, 6.4, 7.2, 7.8, 8.6, 9.2, 10, 10.6, 11.4, 12, 13]],
  [25, [2.2, 3, 3.6, 4.4, 5, 5.8, 6.4, 7.2, 7.8, 8.6, 9.2, 10, 10.6, 11.4, 12, 21]],
  [26, [0, 2.2, 3, 3.6, 4.4, 5, 5.8, 6.4, 7.2, 7.8, 8.6, 9.2, 10, 10.6, 11.4, 12, 13.6, 15.6, 18, 19.4, 20.4]],
  [27, [2.2, 3, 3.6, 4.4, 5, 5.8, 6.4, 7.2, 7.8, 8.6, 9.2, 10, 10.6, 11.4, 12, 13, 16.8]],
  [28, [2, 2.6, 3.2, 3.8, 4.4, 5.2, 5.8, 6.4, 7, 7.6, 8.2, 9, 9.6, 10.4, 11, 12]],
  [29, [2, 2.6, 3.2, 3.8, 4.4, 5, 5.6, 6.2, 6.8, 7.4, 8, 8.8, 9.4, 10, 10.6, 12]],
  [30, [2, 2.6, 3.2, 3.8, 4.4, 5, 5.6, 6.2, 6.8, 7.4, 8, 8.6, 9.2, 10, 10.8, 12, 16.6]],
  [31, [2, 2.6, 3.2, 3.8, 4.4, 5, 5.6, 6.2, 6.8, 7.4, 8, 8.6, 9.2, 9.8, 10.4, 12]],
  [32, [2, 2.6, 3.2, 3.8, 4.4, 5, 5.6, 6.2, 6.8, 7.4, 8, 8.6, 9.4, 10.2, 11.2, 13]],
  [33, [2, 2.6, 3.2, 3.8, 4.4, 5, 5.6, 6.2, 7, 7.6, 8.2, 9.4, 14, 20]],
  [34, [1.8, 2.4, 3, 3.6, 4.2, 4.8, 5.2, 6, 7, 7.8, 8.6, 12.4]],
  [35, [2, 2.6, 3.2, 3.8, 4.4, 5, 5.6, 6.2, 6.8, 8, 10, 12, 13]],
  [36, [0, 2, 2.6, 3.2, 3.8, 4.4, 5, 5.6, 6.2, 6.8, 8, 11, 13.2, 15.4]],
  [37, [2, 3, 3.6, 4.2, 4.8, 5.4, 6, 6.6, 8, 11.6, 13, 14]],
  [38, [2, 2.6, 3.2, 3.8, 4.4, 5, 5.6, 6.8, 9.2, 10, 11, 12.4, 16, 20.6, 22.8]],
  [39, [2, 3, 3.6, 4.2, 4.8, 5.4, 6.2, 10]],
  [40, [3, 3.6, 4.2, 5.2, 7, 10]],
  [41, [2.6, 3.6, 5, 6.4, 8.4, 9.4]],
  [42, [2.8, 4, 6, 7.4]],
  [43, [4, 4.6, 6.4, 8]],
  [44, [4.4, 8.2]],
  [45, [2.4, 4.6]],
  [46, [3.4, 6.6, 9.4]],
  [47, [2.4, 3, 5.4]],
  [48, [3.4, 6.8]],
  [49, [4, 5.4, 6.4, 7]],
  [51, [3.2, 4.4, 10.4]],
  [52, [4.6]],
  [53, [4]],
  [54, [4]],
  [55, [1.8, 3, 3.2]],
  [56, [3.2]],
  [62, [3.6]],
];

// service_period listed per facility_type value
const periodTypeA: Rows = [
  [2, [0, 1, 2, 3, 4, 8, 10, 13, 34, 42, 49]],
  [1, [0, 1, 2, 3, 6, 9, 11, 13, 14, 16, 18, 20, 21, 23, 24, 25, 35, 36, 37, 38, 39, 40]],
];
const periodTypeB: Rows = [
  [3, [1, 2, 4, 6, 7, 7.6, 8, 43]],
  [2, [5, 6, 7, 12, 15, 16, 17, 18, 19, 20]],
  [1, [4, 8, 10, 15, 17, 19]],
  [0, [0, 1, 2, 3, 4, 5, 6, 7, 8, 9, 10, 11, 12, 13, 14, 15, 16, 18, 20, 38, 46, 49]],
];
const periodTypeC: Rows = [
  [3, [9, 10, 11, 12, 13, 14, 15, 16, 17, 18, 19, 20, 21, 22, 23, 24, 25, 26, 27, 28, 29, 30, 31, 32, 33, 34, 35, 36, 37, 38, 39, 41, 42, 44, 45, 46, 47, 48, 49, 51, 53, 55, 56]],
  [2, [9, 11, 14, 21, 22, 23, 24, 25, 26, 27, 28, 29, 30, 31, 32, 33, 35, 36, 37, 38, 39, 40, 41, 43, 46]],
  [1, [5, 7, 12, 22, 26, 27, 28, 29, 30, 31, 32, 33, 34, 42]],
  [0, [17, 19, 21, 22, 23, 24, 25, 26, 27, 28, 29, 30, 31, 32, 33, 34, 35, 36, 37, 39, 40, 41, 42, 44, 45, 47, 52, 54, 55, 62]],
];

// height_bridge listed per facility_type value
const typeHeightA: Rows = [
  [0, [45, 34.1, 27.8, 27.2, 26.7, 24, 21.7, 20.3, 19.6, 18.8, 18, 17.2, 16, 15.5, 15, 14.5, 14, 13.5, 13, 11, 1.5, 0]],
  [1, [49.3, 45.7, 44.5, 41.8, 37.4, 37, 36, 35.5, 35, 34.5, 34, 33, 32.3, 31.6, 31, 30, 29.4, 28.7, 28, 27.2, 26.3, 25.5, 24.7, 24, 23.2, 22.5, 21.8, 21, 20, 15, 14, 13, 12.5, 4.2, 3.6, 3, 2.5, 2, 0]],
  [2, [47, 45.6, 41.8, 40, 39.2, 38.5, 37.8, 35.6, 35, 34.4, 32, 31, 30.2, 29.5, 19.5, 18, 1, 0]],
];
const typeHeightB: Rows = [
  [0, [20, 12, 8.5, 3, 0]],
  [1, [25.2, 13.5, 12.5]],
  [2, [34.2, 33.2, 32.6, 29, 28.3, 27.6, 27, 26.2, 25.5, 24.8, 24, 23.2, 22.4, 21.5, 20.8, 18.8, 14.5, 1.8, 0.3, 0]],
  [3, [27, 24, 23.3, 19, 18.3, 17.5]],
];
const typeHeightC: Rows = [
  [0, [12.2, 10.5, 10, 9.5, 9, 8.5, 8, 7.5, 7, 6.5, 6, 5.5, 5, 4.5, 4, 3.5, 3, 2.5, 2, 1.5]],
  [1, [22, 20.2, 19, 18.2, 17.6, 17, 16.4, 15.8, 12, 11.3, 10.8, 10, 9.5, 9, 8.3, 7.7, 7, 6.4, 5.8, 5.2, 4.6]],
  [2, [20, 19.3, 17.6, 16.8, 15.6, 15, 14.3, 13.7, 13, 12, 11.3, 10.7, 10, 9.3, 8.7, 8, 7.4, 6.8, 6.2, 5.6, 5, 4.4, 3.8, 3.2, 2.6]],
  [3, [23, 21, 20.5, 20, 19.5, 18.8, 18, 17.3, 16.8, 16.3, 15, 13, 11, 9.8, 8.4, 7, 5.6, 4, 3, 2]],
];

const trafficPeriodRegions: Region[] = [
  ['C', -6100, 67000, -6.5, 68.4],
  ['A', -6100, 67000, -6.5, 12],
  ['B', -6100, 250, 9.5, 68.4],
  ['C', -6100, 250, 38.6, 40.2],
  ['A', -6100, 250, 13.6, 14.6],
  ['A', 250, 67000, 9.5, 12],
  ['C', 250, 550, 27, 68.4],
  ['B', 550, 950, 27, 68.4],
  ['B', 900, 1250, -6.5, 0],
  ['B', 250, 16000, 9.5, 27],
  ['A', 16000, 52270, 12, 20.5],
  ['C', 52270, 67000, 12, 20.5],
  ['B', 16000, 67000, 20.5, 21.6],
  ['C', 47800, 52270, 18.5, 19.7],
  ['B', 44100, 52270, 16.9, 18.8],
  ['B', 38600, 41200, 16.8, 17.6],
  ['C', 46000, 52270, 13, 13.6],
  ['C', 38600, 41200, 12.4, 14.6],
  ['C', 33800, 35300, 10.4, 13.6],
  ['C', 32100, 33800, 10, 12],
  ['B', 16000, 34300, 21.6, 26.6],
  ['C', 30000, 30500, 22.6, 26.6],
  ['A', 30500, 32100, 22.6, 23.7],
  ['C', 32900, 34300, 23.9, 25.3],
  ['B', 17000, 24000, 17.5, 19],
  ['B', 20000, 28000, 15, 16.5],
  ['B', 14000, 32500, 11.8, 14.6],
  ['C', 20000, 25000, 25, 25.7],
];
const trafficTypeRegions: Region[] = [
  ['A', -6170, 67500, -0.31, 3.31],
  ['B', -6170, 33640, 2.5, 3.31],
  ['C', 6540, 6915, 2.5, 3.31],
  ['C', 7100, 8470, 2.5, 3.31],
  ['C', 8785, 9095, 2.5, 3.31],
  ['C', 9410, 12460, 2.5, 3.31],
  ['C', 12960, 13890, 2.5, 3.31],
  ['C', 14140, 14515, 2.5, 3.31],
  ['C', 15950, 16385, 2.5, 3.31],
  ['C', 24980, 25480, 2.5, 3.31],
  ['C', 25980, 26600, 2.5, 3.31],
  ['C', 30280, 30780, 2.5, 3.31],
  ['C', 33640, 38690, 2.5, 3.31],
  ['B', 38690, 39250, 2.5, 3.31],
  ['C', 39250, 67500, 2.5, 3.31],
  ['C', 6540, 6915, 1.5, 2.5],
  ['B', -6170, 190, -0.31, 0.5],
  ['B', 380, 930, -0.31, 0.5],
  ['B', 1310, 1740, -0.31, 0.5],
  ['B', 2180, 2490, -0.31, 0.5],
  ['B', 2750, 3050, -0.31, 0.5],
  ['B', 3670, 5170, -0.31, 0.5],
  ['B', 5800, 6540, -0.31, 0.5],
  ['B', 7420, 8290, -0.31, 0.5],
  ['C', 8290, 12640, -0.31, 0.5],
  ['C', 12900, 13980, -0.31, 0.5],
  ['C', 14350, 16030, -0.31, 0.5],
  ['C', 17880, 20560, -0.31, 0.5],
  ['C', 24980, 25290, -0.31, 0.5],
  ['C', 25600, 26040, -0.31, 0.5],
];
const trafficHeightRegions: Region[] = [
  ['A', -6200, 67500, -5.2, 54.6],
  ['B', -6200, 0, 6.4, 7.6],
  ['B', -6200, 0, 0.35, 4.9],
  ['C', -6200, 0, -5.2, 0.35],
  ['C', 0, 630, -5.2, 0],
  ['B', 630, 2930, -5.2, 0],
  ['B', 3300, 3750, -5.2, 0],
  ['B', 4200, 4700, -5.2, 0],
  ['B', 7200, 7650, -5.2, 0],
  ['C', 12400, 12800, -5.2, 0],
  ['B', 14900, 16000, -5.2, 0],
  ['C', 0, 16300, 1.45, 10],
  ['C', 16260, 37750, 1.45, 3.6],
  ['C', 25900, 32000, 4.6, 9.8],
  ['B', 27200, 30300, 8.3, 9.1],
  ['C', 37750, 41600, 1.45, 5],
  ['C', 41600, 46476, 1.45, 3.8],
  ['C', 46476, 48960, 1.45, 7.7],
  ['C', 46476, 48960, 9.1, 9.7],
  ['C', 48960, 67500, 1.45, 9.7],
  ['C', 49900, 52700, 12.1, 12.6],
  ['C', 52700, 67500, 10.4, 12.6],
  ['B', 39600, 41300, 12.2, 12.5],
  ['B', 45000, 46500, 8.3, 8.7],
  ['B', 45000, 46500, 4.7, 5.3],
  ['B', 16300, 18000, 1.7, 2.4],
];
const periodTypeRegions: Region[] = [
  ['C', -6.4, 68.1, -0.32, 3.3],
  ['B', -6.4, 8.4, 2.5, 3.3],
  ['B', 9.4, 20.3, 2.5, 3.3],
  ['B', 22.4, 28.4, 2.5, 3.3],
  ['B', 41.2, 43.3, 2.5, 3.3],
  ['A', -6.4, 23.3, 0.4, 2.5],
  ['A', 24.3, 28.4, 1.5, 2.5],
  ['A', 47.3, 50.2, 1.5, 2.5],
  ['A', 23.3, 25.3, 0.5, 1.5],
  ['A', 26.3, 28.4, 0.5, 1.5],
  ['A', 29.4, 31.4, 0.5, 1.5],
  ['A', 32.4, 40.7, 0.5, 1.5],
  ['A', -6.4, 0.2, -0.32, 0.5],
  ['B', 0.2, 2.2, -0.32, 0.5],
  ['A', 2.2, 14.5, -0.32, 0.5],
  ['B', 14.5, 19.3, -0.32, 0.5],
  ['A', 19.3, 21.3, -0.32, 0.5],
  ['B', 21.3, 23.3, -0.32, 0.5],
  ['B', 24.3, 25.3, -0.32, 0.5],
  ['B', 47.8, 50.2, -0.32, 0.5],
];
const periodHeightRegions: Region[] = [
  ['A', -6.4, 68.2, -5.2, 54.6],
  ['B', -6.4, 3, 1.3, 4.5],
  ['B', 9.4, 32, -5.2, 1.5],
  ['C', 32, 68.2, -5.2, 12.6],
  ['C', 10, 32, 1.5, 10],
  ['B', 32, 33.5, 0.8, 1.6],
  ['C', 25.4, 26.5, 16.6, 23.5],
  ['C', 36.4, 39.4, 15.8, 23.5],
  ['C', 32.6, 33.6, 12.6, 14],
  ['C', 36.4, 39.4, 12.6, 14],
  ['C', 45.9, 68.2, 20.3, 20.7],
  ['C', 49.8, 55.1, 21.4, 21.9],
  ['C', 46.8, 48.4, 21.5, 22.1],
  ['C', 45.9, 68.2, 16.6, 16.9],
  ['C', 46.8, 48.3, 17.9, 18.3],
  ['C', 49.8, 54.2, 13.5, 13.9],
  ['C', 46.8, 48.3, 13.5, 13.9],
];
const typeHeightRegions: Region[] = [
  ['A', -0.31, 3.31, -5.2, 54.6],
  ['B', -0.31, 0.5, -5.2, 0.77],
  ['B', -0.31, 0.5, 1.28, 2.39],
  ['C', -0.31, 0.5, 2.39, 4.27],
  ['B', -0.31, 0.5, 4.43, 4.95],
  ['B', -0.31, 0.5, 5.38, 5.8],
  ['C', -0.31, 0.5, 5.97, 6.66],
  ['C', -0.31, 0.5, 6.99, 7.68],
  ['C', 1.5, 2.5, 6.75, 7.25],
  ['C', 1.5, 2.5, 5.8, 6.4],
  ['C', 1.5, 2.5, 4.1, 4.7],
  ['C', 1.5, 2.5, 3.4, 3.85],
  ['C', 1.5, 2.5, 2.73, 3.25],
  ['B', 2.5, 3.31, -5.2, 54.6],
  ['C', 2.5, 3.31, 21.2, 23.6],
  ['A', 2.5, 3.31, 20.7, 21.2],
  ['C', 2.5, 3.31, 19.5, 19.9],
  ['C', 2.5, 3.31, 16.3, 17],
  ['C', 2.5, 3.31, 9.3, 10],
  ['C', 2.5, 3.31, 5.6, 6.2],
  ['C', 2.5, 3.31, 3.9, 4.5],
  ['C', 2.5, 3.31, 2.7, 3.5],
];

// rows are [y, xs] unless flipped; scale converts thousands of traffic
const fromRows = (rows: Rows, scale = 1, flip = false) =>
  rows.flatMap(([k, vals]) =>
    vals.map((v) => (flip ? { x: k, y: v * scale } : { x: v * scale, y: k }))
  );

const panels = [
  {
    title: 'traffic vs service_period', xLabel: 'traffic', yLabel: 'service_period',
    box: { left: 61, top: 87, width: 393, height: 234 }, yLabelDx: 36,
    xDomain: [-6030, 66400], yDomain: [-6.5, 68.4], xTicks: trafficTicks, yTicks: periodTicks,
    regions: trafficPeriodRegions,
    series: [fromRows(trafficPeriodA, 1000), fromRows(trafficPeriodB, 1000), fromRows(trafficPeriodC, 1000)],
  },
  {
    title: 'traffic vs facility_type', xLabel: 'traffic', yLabel: 'facility_type',
    box: { left: 509, top: 87, width: 394, height: 234 }, yLabelDx: 38,
    xDomain: [-6170, 67480], yDomain: [-0.31, 3.315], xTicks: trafficTicks, yTicks: typeTicks, yFixed: true,
    regions: trafficTypeRegions,
    series: [fromRows(trafficTypeA, 1000), fromRows(trafficTypeB, 1000), fromRows(trafficTypeC, 1000)],
  },
  {
    title: 'traffic vs height_bridge', xLabel: 'traffic', yLabel: 'height_bridge',
    box: { left: 958, top: 87, width: 395, height: 234 }, yLabelDx: 35,
    xDomain: [-6200, 67500], yDomain: [-5.2, 54.6], xTicks: trafficTicks, yTicks: heightTicks,
    regions: trafficHeightRegions,
    series: [fromRows(trafficHeightA, 1000), fromRows(trafficHeightB, 1000), fromRows(trafficHeightC, 1000)],
  },
  {
    title: 'service_period vs facility_type', xLabel: 'service_period', yLabel: 'facility_type',
    box: { left: 61, top: 383, width: 393, height: 232 }, yLabelDx: 39,
    xDomain: [-6.4, 68.1], yDomain: [-0.315, 3.3], xTicks: periodTicks, yTicks: typeTicks, yFixed: true,
    regions: periodTypeRegions,
    series: [fromRows(periodTypeA), fromRows(periodTypeB), fromRows(periodTypeC)],
  },
  {
    title: 'service_period vs height_bridge', xLabel: 'service_period', yLabel: 'height_bridge',
    box: { left: 509, top: 383, width: 394, height: 232 }, yLabelDx: 34,
    xDomain: [-6.4, 68.2], yDomain: [-5.2, 54.6], xTicks: periodTicks, yTicks: heightTicks,
    regions: periodHeightRegions,
    series: [fromRows(periodHeightA, 1, true), fromRows(periodHeightB, 1, true), fromRows(periodHeightC, 1, true)],
  },
  {
    title: 'facility_type vs height_bridge', xLabel: 'facility_type', yLabel: 'height_bridge',
    box: { left: 958, top: 383, width: 395, height: 232 }, yLabelDx: 35,
    xDomain: [-0.308, 3.31], yDomain: [-5.2, 54.6], xTicks: typeTicks, yTicks: heightTicks, xFixed: true, legend: true,
    regions: typeHeightRegions,
    series: [fromRows(typeHeightA, 1, true), fromRows(typeHeightB, 1, true), fromRows(typeHeightC, 1, true)],
  },
];

const FONT = '"Noto Sans", "Noto Sans CJK KR", sans-serif';
const INK = '#2a2a2a';
const classKeys = ['A', 'B', 'C'];

const LegendBox = () => (
  <div style={{ width: 88, height: 75, background: 'rgba(255,255,255,0.8)', borderRadius: 2, fontFamily: '"Noto Sans CJK KR", sans-serif', fontSize: 12.5, color: INK, position: 'relative' }}>
    <div style={{ position: 'absolute', top: 1, left: 0, width: '100%', textAlign: 'center' }}>예측 안전등급</div>
    {classNames.map((name, i) => (
      <div key={name} style={{ position: 'absolute', top: 19 + i * 18, left: 0, height: 18, lineHeight: '18px' }}>
        <span style={{ position: 'absolute', left: 21, top: 7, width: 4, height: 4, borderRadius: 2, background: classFill[classKeys[i]] }} />
        <span style={{ position: 'absolute', left: 45, whiteSpace: 'nowrap' }}>{name}</span>
      </div>
    ))}
  </div>
);

const Dot = (props: any) => (
  <circle cx={props.cx} cy={props.cy} r={2.3} fill={props.fill} fillOpacity={0.85} stroke="#000" strokeOpacity={0.6} strokeWidth={0.5} />
);

function Panel({ panel }: { panel: any }) {
  const { box } = panel;
  const padLeft = 60;
  const padTop = 4;
  const padRight = 6;
  const padBottom = 50;
  const [x0, x1] = panel.xDomain;
  const [y0, y1] = panel.yDomain;
  const tickStyle = { fill: INK, fontSize: 12, fontFamily: FONT };
  const labelStyle = { fill: INK, fontSize: 12.6, fontFamily: FONT };
  return (
    <div style={{ position: 'absolute', left: box.left - padLeft, top: box.top - padTop }}>
      <ScatterChart
        width={box.width + padLeft + padRight}
        height={box.height + padTop + padBottom}
        margin={{ top: padTop, right: padRight, bottom: 0, left: 0 }}
      >
        <XAxis
          type="number"
          dataKey="x"
          domain={panel.xDomain}
          ticks={panel.xTicks}
          interval={0}
          allowDataOverflow
          height={padBottom}
          tick={tickStyle}
          tickSize={3.5}
          tickLine={{ stroke: INK }}
          axisLine={false}
          tickFormatter={(v: number) => (panel.xFixed ? v.toFixed(1) : String(v))}
          label={{ value: panel.xLabel, position: 'insideBottom', offset: 13, style: labelStyle }}
        />
        <YAxis
          type="number"
          dataKey="y"
          domain={panel.yDomain}
          ticks={panel.yTicks}
          interval={0}
          allowDataOverflow
          width={padLeft}
          tick={tickStyle}
          tickSize={3.5}
          tickLine={{ stroke: INK }}
          axisLine={false}
          tickFormatter={(v: number) => (panel.yFixed ? v.toFixed(1) : String(v))}
          label={{ value: panel.yLabel, angle: -90, position: 'center', dx: 30 - panel.yLabelDx, style: { ...labelStyle, textAnchor: 'middle' } }}
        />
        {panel.regions.map(([cls, a, b, c, d]: Region, i: number) => (
          <ReferenceArea
            key={i}
            x1={Math.max(a, x0)}
            x2={Math.min(b, x1)}
            y1={Math.max(c, y0)}
            y2={Math.min(d, y1)}
            fill={regionFill[cls]}
            fillOpacity={1}
            stroke="none"
            ifOverflow="hidden"
          />
        ))}
        {panel.series.map((points: any[], i: number) => (
          <Scatter key={i} name={classNames[i]} data={points} fill={classFill[classKeys[i]]} shape={Dot} isAnimationActive={false} />
        ))}
        <ReferenceArea x1={x0} x2={x1} y1={y0} y2={y1} fill="none" fillOpacity={0} stroke="#333" strokeWidth={1.2} strokeOpacity={1} ifOverflow="visible" />
        {panel.legend && (
          <Legend
            layout="vertical"
            align="center"
            verticalAlign="middle"
            content={() => <LegendBox />}
            wrapperStyle={{ left: 360, top: 154, width: 88 }}
          />
        )}
      </ScatterChart>
      <div style={{ position: 'absolute', left: padLeft, top: padTop - 22, width: box.width, textAlign: 'center', fontFamily: FONT, fontSize: 14.2, color: INK, whiteSpace: 'nowrap' }}>
        {panel.title}
      </div>
    </div>
  );
}

export default function App() {
  return (
    <div style={{ position: 'absolute', left: 0, top: 0, width: 1369, height: 672, background: '#fff', overflow: 'hidden', filter: 'blur(0.5px)' }}>
      <div style={{ position: 'absolute', left: 0, top: 11, width: 1385, textAlign: 'center', fontFamily: FONT, fontSize: 19.3, color: '#111' }}>
        Decision Boundary for Prediction Results of Random Forest
      </div>
      {panels.map((panel) => (
        <Panel key={panel.title} panel={panel} />
      ))}
    </div>
  );
}
